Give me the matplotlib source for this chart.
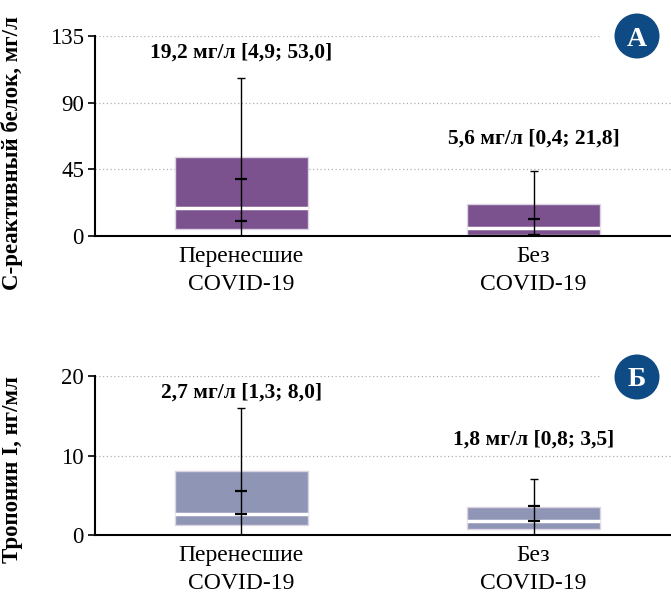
import numpy as np
import matplotlib
matplotlib.use("Agg")
from matplotlib import pyplot as plt
from matplotlib.patches import Circle

plt.rcParams['font.family'] = ['Liberation Serif', 'DejaVu Serif']

groups = ["Перенесшие\nCOVID-19", "Без\nCOVID-19"]

# C-reactive protein, mg/l
crp_median = [19.2, 5.6]
crp_q1 = [4.9, 0.4]
crp_q3 = [53.0, 21.8]
crp_whisk_lo = [0.0, 0.0]
crp_whisk_hi = [106.5, 44.0]
crp_tick_lo = [9.8, 0.4]
crp_tick_hi = [38.8, 11.3]
crp_labels = ["19,2 мг/л [4,9; 53,0]", "5,6 мг/л [0,4; 21,8]"]
crp_yticks = [0, 45, 90, 135]

# Troponin I, ng/ml
tro_median = [2.7, 1.8]
tro_q1 = [1.3, 0.8]
tro_q3 = [8.0, 3.5]
tro_whisk_lo = [0.0, 0.0]
tro_whisk_hi = [16.0, 7.1]
tro_tick_lo = [2.6, 1.7]
tro_tick_hi = [5.5, 3.6]
tro_labels = ["2,7 мг/л [1,3; 8,0]", "1,8 мг/л [0,8; 3,5]"]
tro_yticks = [0, 10, 20]

fig = plt.figure(figsize=(6.71, 5.94), dpi=100)
ax1 = fig.add_axes([0.1416, 0.6027, 0.8584, 0.3367])
ax2 = fig.add_axes([0.1416, 0.0993, 0.8584, 0.2677])

W = 0.455


def panel(ax, med, q1, q3, wlo, whi, tlo, thi, labels, yticks, color,
          ylabel, label_y, letter, letter_y):
    x = np.arange(len(med))
    q1 = np.array(q1)
    q3 = np.array(q3)
    ax.bar(x, q3 - q1, bottom=q1, width=W, color=color,
           edgecolor="#dcd3e3", linewidth=1, zorder=2)
    ax.hlines(med, x - W / 2, x + W / 2, color="white", lw=2.5, zorder=3)
    ax.vlines(x, wlo, whi, color="black", lw=1, zorder=4)
    ax.plot(x, whi, ls="none", marker="_", ms=6, mew=1, color="black", zorder=4)
    ax.plot(x, tlo, ls="none", marker="_", ms=9, mew=1.6, color="black", zorder=4)
    ax.plot(x, thi, ls="none", marker="_", ms=9, mew=1.6, color="black", zorder=4)
    for xi, (txt, ty) in enumerate(zip(labels, label_y)):
        ax.text(xi, ty, txt, ha="center", va="center", fontsize=15.5,
                fontweight="bold")

    ax.set_xlim(-0.5, 1.47)
    ax.set_ylim(yticks[0], yticks[-1])
    ax.set_yticks(yticks)
    ax.set_xticks(x)
    ax.set_xticklabels(groups, fontsize=17, linespacing=1.45)
    ax.tick_params(axis="x", length=0, pad=7)
    ax.tick_params(axis="y", labelsize=16.5, length=5, width=1.2, direction="out", pad=3)
    for s in ["top", "right"]:
        ax.spines[s].set_visible(False)
    for s in ["left", "bottom"]:
        ax.spines[s].set_linewidth(1.5)
    ax.yaxis.grid(True, ls=(0, (1, 2)), color="#b0b0b0", lw=0.9, zorder=0)
    ax.set_axisbelow(True)
    ax.set_ylabel(ylabel, fontsize=16.5, fontweight="bold")
    ax.yaxis.set_label_coords(-0.125, 0.415)

    # letter badge, masked from grid with a white disc
    cy = letter_y
    fig.patches.append(Circle((6.37, cy), 0.36, transform=fig.dpi_scale_trans,
                              fc="white", ec="none", zorder=5))
    fig.patches.append(Circle((6.37, cy), 0.225, transform=fig.dpi_scale_trans,
                              fc="#0e4a83", ec="none", zorder=6))
    fig.text(6.37 / 6.71, cy / 5.94, letter, color="white", fontsize=20,
             fontweight="bold", ha="center", va="center_baseline", zorder=7)


panel(ax1, crp_median, crp_q1, crp_q3, crp_whisk_lo, crp_whisk_hi,
      crp_tick_lo, crp_tick_hi, crp_labels, crp_yticks, "#7b528e",
      "С-реактивный белок, мг/л", [123.5, 66], "А", (594 - 36) / 100)
panel(ax2, tro_median, tro_q1, tro_q3, tro_whisk_lo, tro_whisk_hi,
      tro_tick_lo, tro_tick_hi, tro_labels, tro_yticks, "#8f95b5",
      "Тропонин I, нг/мл", [17.9, 12.0], "Б", (594 - 377) / 100)

fig.savefig("out.png", dpi=100)
